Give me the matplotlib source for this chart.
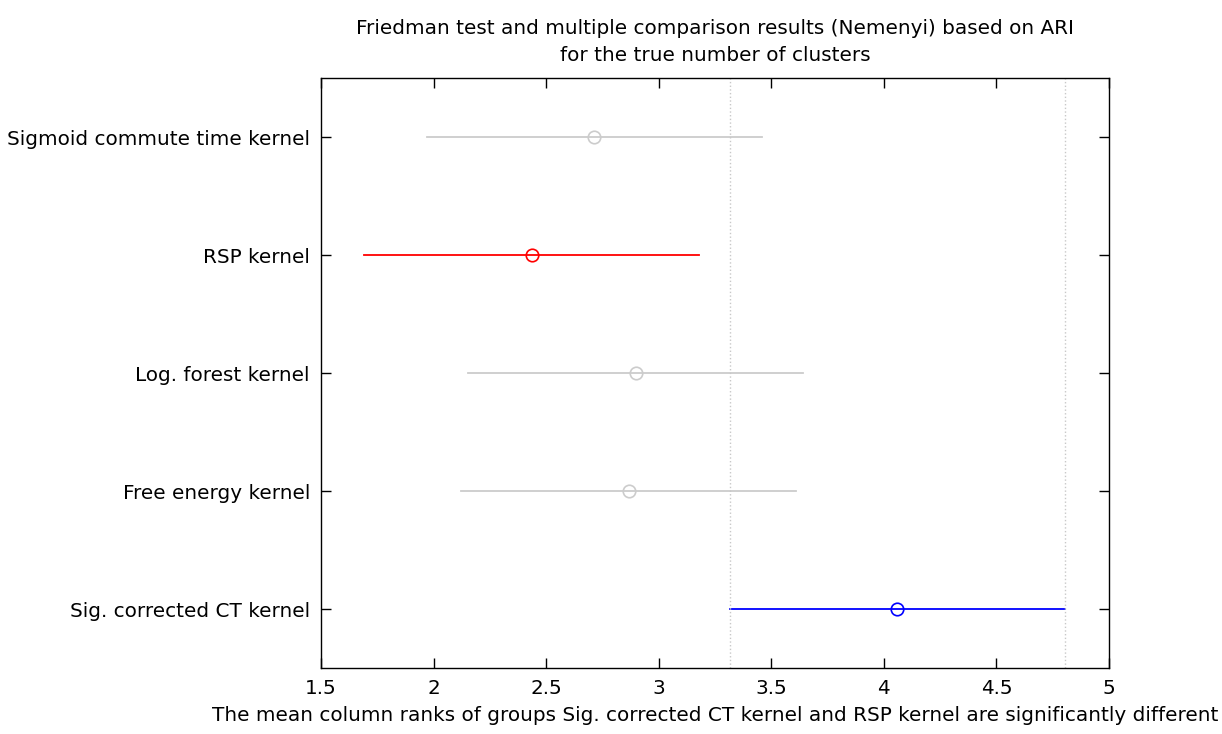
import matplotlib.pyplot as plt

groups = ['Sigmoid commute time kernel', 'RSP kernel', 'Log. forest kernel',
          'Free energy kernel', 'Sig. corrected CT kernel']
means = [2.713, 2.437, 2.899, 2.868, 4.060]
half_width = 0.744
colors = ['#cccccc', '#ff0000', '#cccccc', '#cccccc', '#0000ff']

plt.rcParams['font.family'] = ['DejaVu Sans']
plt.rcParams['font.size'] = 14.4

fig = plt.figure(figsize=(12.22, 7.34), dpi=100)
ax = fig.add_axes([0.2627, 0.0899, 0.9075 - 0.2627, 0.8937 - 0.0899])

ypos = list(range(len(groups), 0, -1))
for m, y, c in zip(means, ypos, colors):
    ax.plot([m - half_width, m + half_width], [y, y], color=c, lw=1.3)
    ax.plot(m, y, 'o', mfc='none', mec=c, ms=9, mew=1.2)

# interval of the selected group
sel = means[-1]
for x in (sel - half_width, sel + half_width):
    ax.axvline(x, color='#c8c8c8', ls=':', lw=1)

ax.set_xlim(1.5, 5)
ax.set_ylim(0.5, 5.5)
ax.set_xticks([1.5, 2, 2.5, 3, 3.5, 4, 4.5, 5])
ax.set_xticklabels(['1.5', '2', '2.5', '3', '3.5', '4', '4.5', '5'])
ax.set_yticks(ypos)
ax.set_yticklabels(groups)
ax.tick_params(direction='in', top=True, right=True, length=7, width=1, pad=8)
ax.tick_params(axis='x', pad=8)
for s in ax.spines.values():
    s.set_linewidth(1)

ax.set_title('Friedman test and multiple comparison results (Nemenyi) based on ARI\n'
             'for the true number of clusters', fontsize=14.4, pad=12, linespacing=1.55)
ax.set_xlabel('The mean column ranks of groups Sig. corrected CT kernel and RSP kernel '
              'are significantly different', labelpad=6)

fig.savefig('out.png', dpi=100)
